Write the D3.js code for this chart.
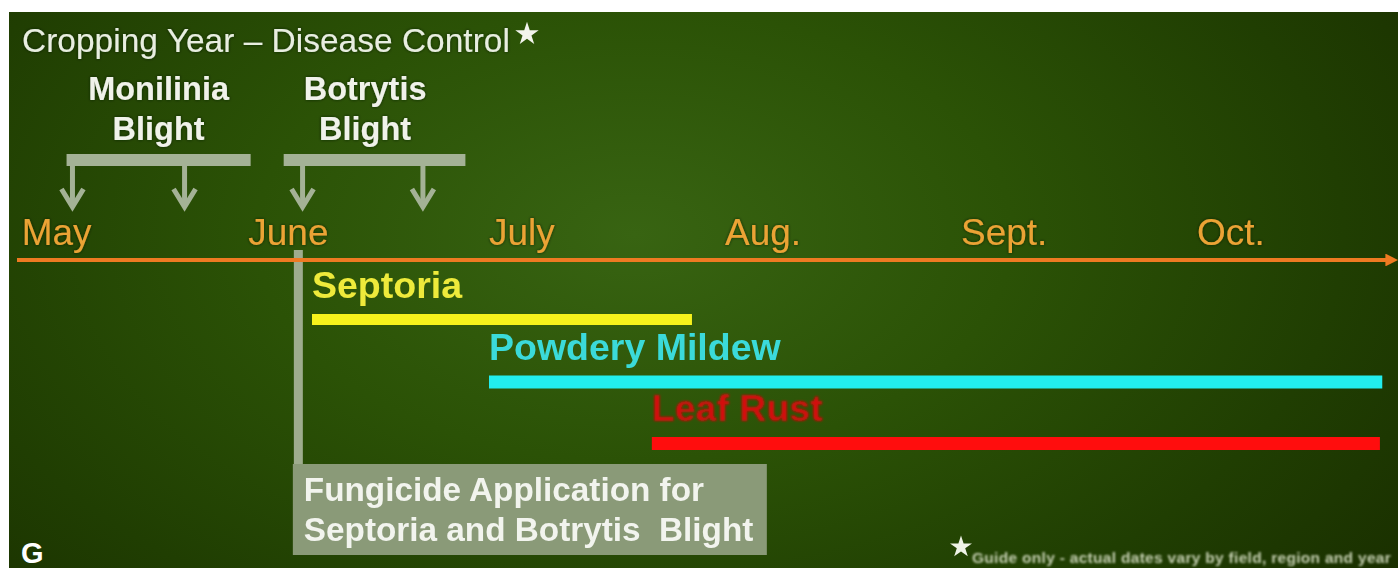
<!DOCTYPE html>
<html>
<head>
<meta charset="utf-8">
<script src="https://cdn.jsdelivr.net/npm/d3@7"></script>
<style>
  html, body { margin: 0; padding: 0; background: #fff; }
  svg { display: block; font-family: "Liberation Sans", Arial, sans-serif; }
</style>
</head>
<body>
<div id="chart"></div>
<script>
// months along the timeline (0 = start of May)
var months = ["May", "June", "July", "Aug.", "Sept.", "Oct."]
var monthAt = [0.02, 0.98, 2, 3, 4, 5]

// early-season blights, bracketed over the axis
var blightNames = [["Monilinia", "Blight"], ["Botrytis", "Blight"]]
var blightFrom = [0.21, 1.13]
var blightTo = [0.99, 1.90]
var blightLabelAt = [0.6, 1.475]
var blightArrows = [[0.235, 0.71], [1.21, 1.72]]

// disease periods (in months after May 1)
var diseases = ["Septoria", "Powdery Mildew", "Leaf Rust"]
var diseaseStart = [1.25, 2.0, 2.69]
var diseaseEnd = [2.86, 5.785, 5.775]
var diseaseColors = ["#f6f21c", "#22eeee", "#ff0a0a"]
var labelColors = ["#eeea3a", "#3adada", "#d40808"]

var fungicideAt = 1.19
var fungicideText = ["Fungicide Application for", "Septoria and Botrytis  Blight"]
var axisEnd = 5.82

var W = 1398, H = 570

var svg = d3.select("#chart").append("svg")
    .attr("width", W)
    .attr("height", H)

var defs = svg.append("defs")
var grad = defs.append("radialGradient")
    .attr("id", "bg")
    .attr("cx", "0.45").attr("cy", "0.4").attr("r", "0.68")
    .attr("gradientTransform", "translate(0.45,0.4) scale(1,1.5) translate(-0.45,-0.4)")
grad.append("stop").attr("offset", "0").attr("stop-color", "#386412")
grad.append("stop").attr("offset", "0.4").attr("stop-color", "#2b5206")
grad.append("stop").attr("offset", "0.75").attr("stop-color", "#203e02")
grad.append("stop").attr("offset", "1").attr("stop-color", "#1a3000")

var glow = defs.append("filter").attr("id", "glow")
    .attr("x", "-10%").attr("y", "-30%").attr("width", "120%").attr("height", "160%")
glow.append("feGaussianBlur").attr("in", "SourceAlpha").attr("stdDeviation", 1.6).attr("result", "b")
glow.append("feFlood").attr("flood-color", "#0c1c00").attr("flood-opacity", 0.8)
glow.append("feComposite").attr("in2", "b").attr("operator", "in").attr("result", "s")
var gm = glow.append("feMerge")
gm.append("feMergeNode").attr("in", "s")
gm.append("feMergeNode").attr("in", "SourceGraphic")

defs.append("filter").attr("id", "soft")
  .append("feGaussianBlur").attr("stdDeviation", 0.9)
defs.append("filter").attr("id", "softer")
  .append("feGaussianBlur").attr("stdDeviation", 0.5)

defs.append("marker")
    .attr("id", "arrowhead")
    .attr("viewBox", "0 0 10 10")
    .attr("refX", 4).attr("refY", 5)
    .attr("markerWidth", 3.2).attr("markerHeight", 3.2)
    .attr("orient", "auto")
  .append("path")
    .attr("d", "M0,0 L10,5 L0,10 Z")
    .attr("fill", "#ee7a22")

// background panel
svg.append("rect")
    .attr("x", 9).attr("y", 12)
    .attr("width", W - 9).attr("height", 556)
    .attr("fill", "url(#bg)")

var x = d3.scaleLinear()
    .domain([0, 5])
    .range([17, 1197])

var star = d3.symbol().type(d3.symbolStar)

// title
svg.append("text")
    .attr("x", 22).attr("y", 52)
    .attr("font-size", 33.5)
    .attr("fill", "#e8eee0")
    .attr("filter", "url(#glow)")
    .text("Cropping Year \u2013 Disease Control")
svg.append("path")
    .attr("d", star.size(170)())
    .attr("transform", "translate(527,34)")
    .attr("fill", "#f2f4ec")
    .attr("filter", "url(#softer)")

// blight brackets
var bracketColor = "#a4b296"
blightNames.forEach(function(name, i) {
  var g = svg.append("g")
  g.append("rect")
      .attr("x", x(blightFrom[i])).attr("y", 154)
      .attr("width", x(blightTo[i]) - x(blightFrom[i])).attr("height", 12)
      .attr("fill", bracketColor)
  blightArrows[i].forEach(function(a) {
    g.append("line")
        .attr("x1", x(a)).attr("x2", x(a))
        .attr("y1", 165).attr("y2", 204)
        .attr("stroke", bracketColor).attr("stroke-width", 5)
    g.append("path")
        .attr("d", "M" + (x(a) - 11) + ",189 L" + x(a) + ",207 L" + (x(a) + 11) + ",189")
        .attr("fill", "none")
        .attr("stroke", bracketColor).attr("stroke-width", 5)
        .attr("stroke-linejoin", "miter")
  })
  name.forEach(function(t, k) {
    g.append("text")
        .attr("x", x(blightLabelAt[i])).attr("y", 100 + k * 40)
        .attr("text-anchor", "middle")
        .attr("font-size", 32.5).attr("font-weight", "bold")
        .attr("fill", "#f0f2ea")
        .attr("filter", "url(#glow)")
        .text(t)
  })
})

// fungicide marker and note
var fx = x(fungicideAt)
svg.append("rect")
    .attr("x", fx - 4).attr("y", 250)
    .attr("width", 9).attr("height", 216)
    .attr("fill", "#9eac8e")
svg.append("rect")
    .attr("x", fx - 5).attr("y", 464)
    .attr("width", 474).attr("height", 91)
    .attr("fill", "#8a9a78")
fungicideText.forEach(function(t, k) {
  svg.append("text")
      .attr("x", fx + 6).attr("y", 501 + k * 40)
      .attr("font-size", 33.3).attr("font-weight", "bold")
      .attr("fill", "#f2f4ee")
      .attr("filter", "url(#softer)")
      .style("white-space", "pre")
      .text(t)
})

// timeline axis
svg.append("line")
    .attr("x1", x(0)).attr("x2", x(axisEnd))
    .attr("y1", 260).attr("y2", 260)
    .attr("stroke", "#ee7a22").attr("stroke-width", 4)
    .attr("marker-end", "url(#arrowhead)")

svg.selectAll(".month")
    .data(months)
  .enter().append("text")
    .attr("class", "month")
    .attr("x", function(d, i) { return x(monthAt[i]) })
    .attr("y", 245)
    .attr("font-size", 37)
    .attr("fill", "#eba335")
    .attr("filter", "url(#glow)")
    .text(function(d) { return d })

// disease bars
var y = d3.scalePoint()
    .domain(diseases)
    .range([320, 443])

diseases.forEach(function(d, i) {
  svg.append("rect")
      .attr("x", x(diseaseStart[i])).attr("y", y(d) - 6)
      .attr("width", x(diseaseEnd[i]) - x(diseaseStart[i]))
      .attr("height", i == 0 ? 11 : 13)
      .attr("fill", diseaseColors[i])
      .attr("filter", "url(#softer)")
  svg.append("text")
      .attr("x", x(diseaseStart[i])).attr("y", y(d) - 22)
      .attr("font-size", 37.5).attr("font-weight", "bold")
      .attr("fill", labelColors[i])
      .attr("filter", i == 2 ? "url(#soft)" : "url(#softer)")
      .text(d)
})

// panel letter and footnote
svg.append("text")
    .attr("x", 21).attr("y", 563)
    .attr("font-size", 29).attr("font-weight", "bold")
    .attr("fill", "#ffffff")
    .text("G")

svg.append("path")
    .attr("d", star.size(150)())
    .attr("transform", "translate(961,547)")
    .attr("fill", "#eef2e6")
    .attr("filter", "url(#softer)")
svg.append("text")
    .attr("x", 972).attr("y", 563)
    .attr("font-size", 15.5).attr("font-weight", "bold")
    .attr("letter-spacing", 0.3)
    .attr("fill", "#c4cfb0")
    .attr("filter", "url(#soft)")
    .text("Guide only - actual dates vary by field, region and year")
</script>
</body>
</html>
